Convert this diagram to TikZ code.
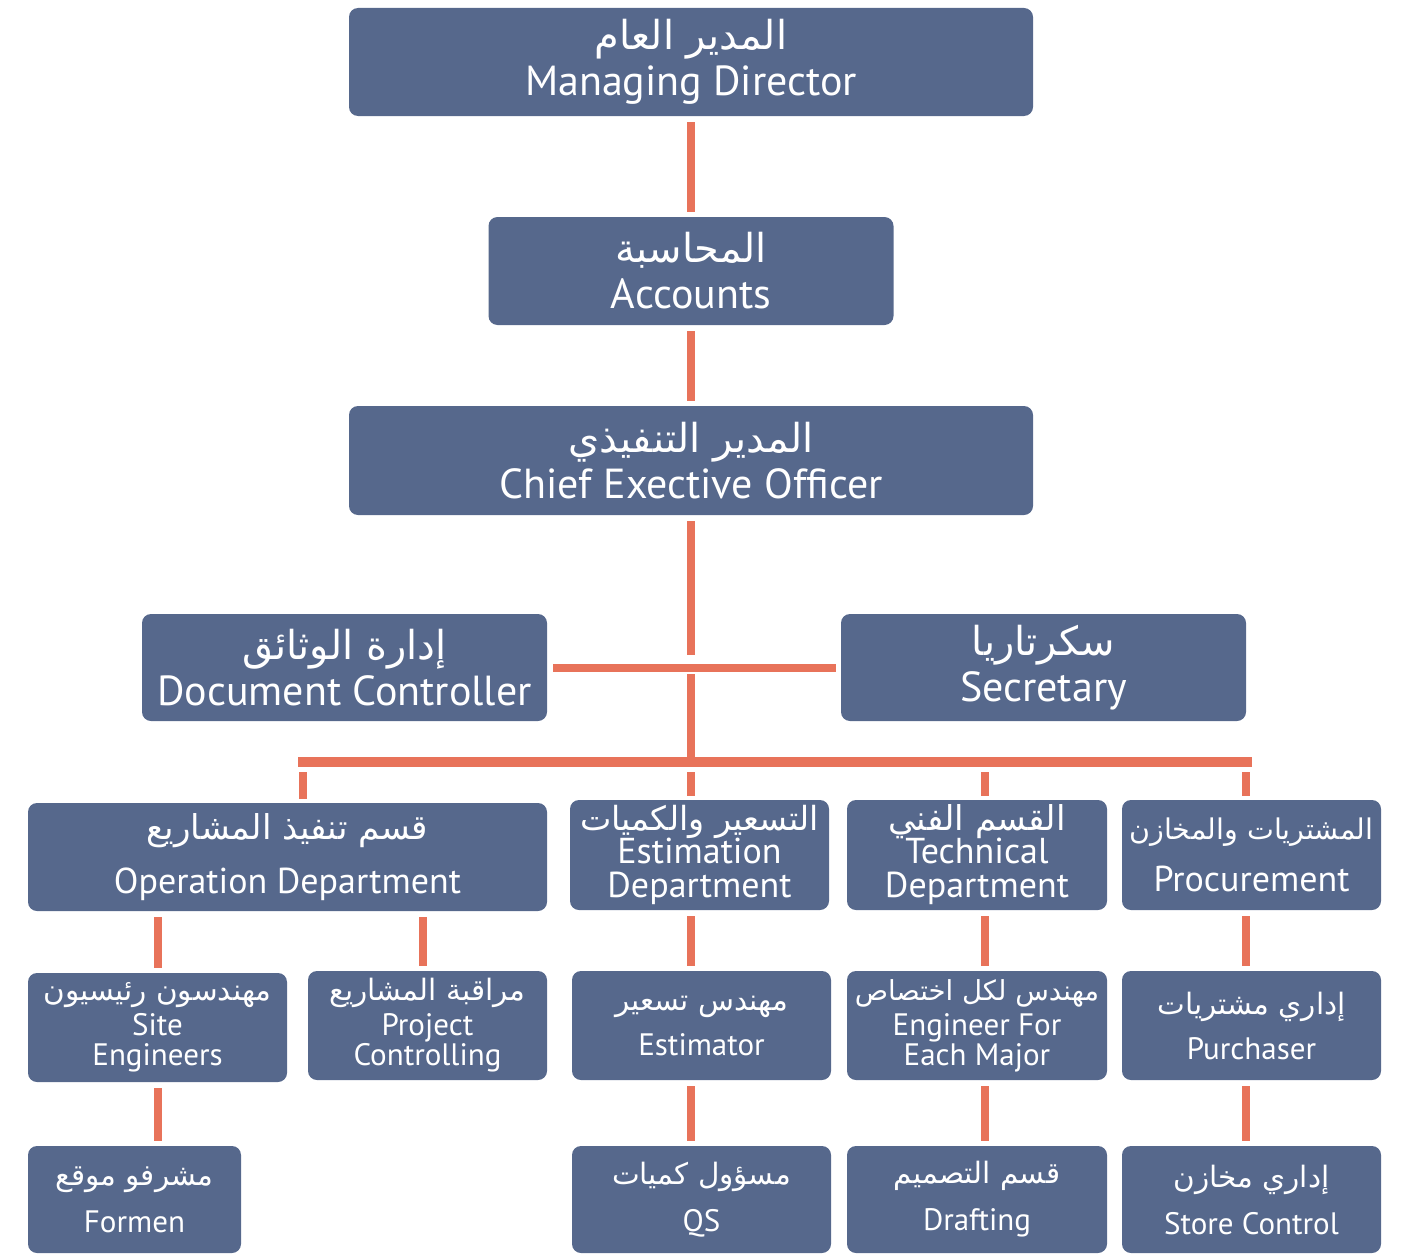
\documentclass[tikz,border=0pt]{standalone}
\usepackage{fontspec}
\setmainfont{PT Sans}
\newfontfamily\arabicfont[Script=Arabic,Scale=0.95]{DejaVu Sans}
\TeXXeTstate=1
\newcommand\artext[2][]{{#1\arabicfont\beginR #2\endR}}
\definecolor{boxblue}{RGB}{86,104,140}
\definecolor{linkorange}{RGB}{232,115,90}
\tikzset{
	box/.style={fill=boxblue, rounded corners=9pt, text=white, align=center, inner sep=0pt},
	big/.style={font=\fontsize{42}{46}\selectfont},
	mid/.style={font=\fontsize{36}{34}\selectfont},
	small/.style={font=\fontsize{31}{30}\selectfont},
	link/.style={draw=linkorange, line width=8pt, shorten <=6pt, shorten >=5pt},
	tick/.style={link, shorten <=10pt, shorten >=4pt}
}

\begin{document}
\begin{tikzpicture}[x=1pt, y=-1pt]
			\useasboundingbox (0,0) rectangle (1401,1255);
			\node[box, big, minimum width=684pt, minimum height=108pt] (md) at (691,62) {\artext{المدير العام}\\Managing Director};
			\node[box, big, minimum width=405pt, minimum height=108pt] (acc) at (691,271) {\artext{المحاسبة}\\Accounts};
			\node[box, big, minimum width=684pt, minimum height=109pt] (ceo) at (691,460.5) {\artext{المدير التنفيذي}\\Chief Exective Officer};
			\node[box, big, minimum width=405pt, minimum height=107pt] (doc) at (344.5,667.5) {\artext{إدارة الوثائق}\\Document Controller};
			\node[box, big, minimum width=405pt, minimum height=107pt] (sec) at (1043.5,667.5) {\artext{سكرتاريا}\\Secretary};
			
			\node[box, mid, minimum width=519pt, minimum height=108pt] (ops) at (287.5,857) {\artext{قسم تنفيذ المشاريع}\\[20pt]Operation Department};
			\node[box, mid, minimum width=259pt, minimum height=110pt] (est) at (699.5,855) {\artext[\fontsize{35}{32}\selectfont]{التسعير والكميات}\\[-1pt]Estimation\\Department};
			\node[box, mid, minimum width=260pt, minimum height=110pt] (tech) at (977,855) {\artext{القسم الفني}\\[-1pt]Technical\\Department};
			\node[box, mid, minimum width=259pt, minimum height=110pt] (proc) at (1251.5,855) {\artext[\fontsize{30}{32}\selectfont]{المشتريات والمخازن}\\[18pt]Procurement};
			
			\node[box, small, minimum width=259pt, minimum height=109pt] (se) at (157.5,1027.5) {\artext{مهندسون رئيسيون}\\[5pt]Site\\Engineers};
			\node[box, small, minimum width=239pt, minimum height=109pt] (pc) at (427.5,1025.5) {\artext{مراقبة المشاريع}\\[5pt]Project\\Controlling};
			\node[box, small, minimum width=259pt, minimum height=109pt] (estr) at (701.5,1025.5) {\artext{مهندس تسعير}\\[15pt]Estimator};
			\node[box, small, minimum width=260pt, minimum height=109pt] (eng) at (977,1025.5) {\artext[\fontsize{29}{30}\selectfont]{مهندس لكل اختصاص}\\[5pt]Engineer For\\Each Major};
			\node[box, small, minimum width=259pt, minimum height=109pt] (pur) at (1251.5,1025.5) {\artext{إداري مشتريات}\\[15pt]Purchaser};
			
			\node[box, small, minimum width=213pt, minimum height=107pt] (fm) at (134.5,1199.5) {\artext{مشرفو موقع}\\[17pt]Formen};
			\node[box, small, minimum width=259pt, minimum height=107pt] (qs) at (701.5,1199.5) {\artext{مسؤول كميات}\\[17pt]QS};
			\node[box, small, minimum width=260pt, minimum height=107pt] (dr) at (977,1199.5) {\artext{قسم التصميم}\\[17pt]Drafting};
			\node[box, small, minimum width=259pt, minimum height=107pt] (sc) at (1251.5,1199.5) {\artext{إداري مخازن}\\[17pt]Store Control};
			
			\coordinate (hub) at (691,665);
			\coordinate (bus) at (691,762);
			\coordinate (busL) at (298,762);
			\coordinate (busR) at (1252,762);
			
			\draw[link] (md.south) -- (acc.north);
			\draw[link] (acc.south) -- (ceo.north);
			\draw[link] (ceo.south) -- ([yshift=5pt]hub);
			\draw[link] (doc.east) -- (sec.west);
			\draw[link] ([yshift=-3pt]hub) -- (bus);
			\draw[link, line width=10pt, shorten <=0pt, shorten >=0pt] (busL) -- (busR);
			
			\draw[tick] ([xshift=15.5pt]ops.north |- bus) -- ([xshift=15.5pt]ops.north);
			\draw[tick] ([xshift=-8.5pt]est.north |- bus) -- ([xshift=-8.5pt]est.north);
			\draw[tick] ([xshift=8pt]tech.north |- bus) -- ([xshift=8pt]tech.north);
			\draw[tick] ([xshift=-6pt]proc.north |- bus) -- ([xshift=-6pt]proc.north);
			
			\draw[link] (se.north |- ops.south) -- (se.north);
			\draw[link] ([xshift=-4.5pt]pc.north |- ops.south) -- ([xshift=-4.5pt]pc.north);
			\draw[link] ([xshift=-8.5pt]est.south) -- ([xshift=-10.5pt]estr.north);
			\draw[link] ([xshift=8pt]tech.south) -- ([xshift=8pt]eng.north);
			\draw[link] ([xshift=-6pt]proc.south) -- ([xshift=-6pt]pur.north);
			
			\draw[link] (se.south) -- (se.south |- fm.north);
			\draw[link] ([xshift=-10.5pt]estr.south) -- ([xshift=-10.5pt]qs.north);
			\draw[link] ([xshift=8pt]eng.south) -- ([xshift=8pt]dr.north);
			\draw[link] ([xshift=-6pt]pur.south) -- ([xshift=-6pt]sc.north);
\end{tikzpicture}
\end{document}
